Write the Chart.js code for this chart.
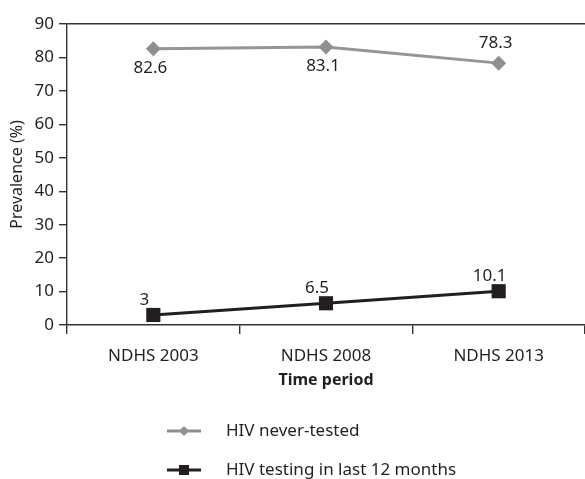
<!DOCTYPE html>
<html><head><meta charset="utf-8">
<script src="https://cdn.jsdelivr.net/npm/chart.js@4/dist/chart.umd.min.js"></script>
<style>html,body{margin:0;padding:0;background:#fff}#wrap{width:585px;height:479px}</style>
</head><body><div id="wrap"><canvas id="c" width="585" height="479"></canvas></div>
<script>
const categories = ["NDHS 2003", "NDHS 2008", "NDHS 2013"];
const neverTested = [82.6, 83.1, 78.3];
const tested12m = [3, 6.5, 10.1];
const seriesNames = ["HIV never-tested", "HIV testing in last 12 months"];
const yTicks = [0, 10, 20, 30, 40, 50, 60, 70, 80, 90];
const labelPlacement = [["below", "below", "above"], ["above", "above", "above"]];

const FONT = "'Noto Sans', sans-serif";
const TXT = '#231f20';
const GRAY = '#8e8f91';
const BLACK = '#231f20';

const labelPlugin = {
  id: 'labels',
  afterDatasetsDraw(chart) {
    const ctx = chart.ctx;
    ctx.save();
    ctx.font = "17px " + FONT;
    ctx.fillStyle = TXT;
    ctx.textAlign = 'center';
    ctx.textBaseline = 'middle';
    chart.data.datasets.forEach((ds, di) => {
      const meta = chart.getDatasetMeta(di);
      meta.data.forEach((pt, i) => {
        const place = labelPlacement[di][i];
        const dx = di === 0 ? -3 : -9;
        const dy = di === 0 ? (place === 'below' ? 19 : -20) : -15;
        ctx.fillText(String(ds.data[i]), pt.x + dx, pt.y + dy);
      });
    });
    ctx.restore();
  }
};

const legendPlugin = {
  id: 'customLegend',
  afterDraw(chart) {
    const ctx = chart.ctx;
    ctx.save();
    const items = [
      {y: 431, color: GRAY, style: 'diamond', text: seriesNames[0]},
      {y: 470, color: BLACK, style: 'square', text: seriesNames[1]}
    ];
    items.forEach(it => {
      ctx.strokeStyle = it.color;
      ctx.lineWidth = 3;
      ctx.beginPath();
      ctx.moveTo(167, it.y); ctx.lineTo(201, it.y); ctx.stroke();
      ctx.fillStyle = it.color;
      const cx = 184;
      if (it.style === 'diamond') {
        ctx.beginPath();
        ctx.moveTo(cx, it.y - 5); ctx.lineTo(cx + 5, it.y); ctx.lineTo(cx, it.y + 5); ctx.lineTo(cx - 5, it.y);
        ctx.closePath(); ctx.fill();
      } else {
        ctx.fillRect(cx - 5, it.y - 5, 10, 10);
      }
      ctx.fillStyle = TXT;
      ctx.font = "17px " + FONT;
      ctx.textAlign = 'left';
      ctx.textBaseline = 'middle';
      ctx.fillText(it.text, 226, it.y);
    });
    ctx.restore();
  }
};

new Chart(document.getElementById('c'), {
  type: 'line',
  data: {
    labels: categories,
    datasets: [
      {label: seriesNames[0], data: neverTested, borderColor: '#939598', backgroundColor: GRAY,
       borderWidth: 3, pointStyle: 'rectRot', pointRadius: 7.5, pointHoverRadius: 7.5, pointBorderWidth: 0, tension: 0},
      {label: seriesNames[1], data: tested12m, borderColor: BLACK, backgroundColor: BLACK,
       borderWidth: 3, pointStyle: 'rect', pointRadius: 10, pointHoverRadius: 10, pointBorderWidth: 0, tension: 0}
    ]
  },
  options: {
    responsive: false,
    animation: false,
    events: [],
    layout: {autoPadding: false, padding: {top: 24, right: -3, bottom: 89, left: 0}},
    plugins: {legend: {display: false}, tooltip: {enabled: false}},
    scales: {
      x: {
        offset: true,
        grid: {offset: true, drawOnChartArea: false, drawTicks: true, tickLength: 9, color: '#333', lineWidth: 1.4},
        border: {display: true, color: '#333', width: 1.4},
        ticks: {color: TXT, font: {family: FONT, size: 17}, padding: 12, maxRotation: 0},
        title: {display: true, text: 'Time period', color: TXT, font: {family: FONT, size: 16, weight: 'bold'}, padding: {top: 0, bottom: 0}},
        afterFit(s) { s.height = 65; s.paddingLeft = 0; s.paddingRight = 0; }
      },
      y: {
        min: 0, max: 90,
        afterBuildTicks(s) { s.ticks = yTicks.map(v => ({value: v})); },
        grid: {drawOnChartArea: true, drawTicks: true, tickLength: 8,
               color: c => (c.tick && c.tick.value === 90) ? '#333' : 'rgba(0,0,0,0)',
               tickColor: '#333', lineWidth: 1.4},
        border: {display: true, color: '#333', width: 1.4},
        ticks: {color: TXT, font: {family: FONT, size: 17}, padding: 5},
        title: {display: true, text: 'Prevalence (%)', color: TXT, font: {family: FONT, size: 16}, padding: {top: 8, bottom: 0}},
        afterFit(s) { s.width = 67; s.paddingTop = 0; s.paddingBottom = 0; }
      }
    }
  },
  plugins: [labelPlugin, legendPlugin]
});
</script></body></html>
